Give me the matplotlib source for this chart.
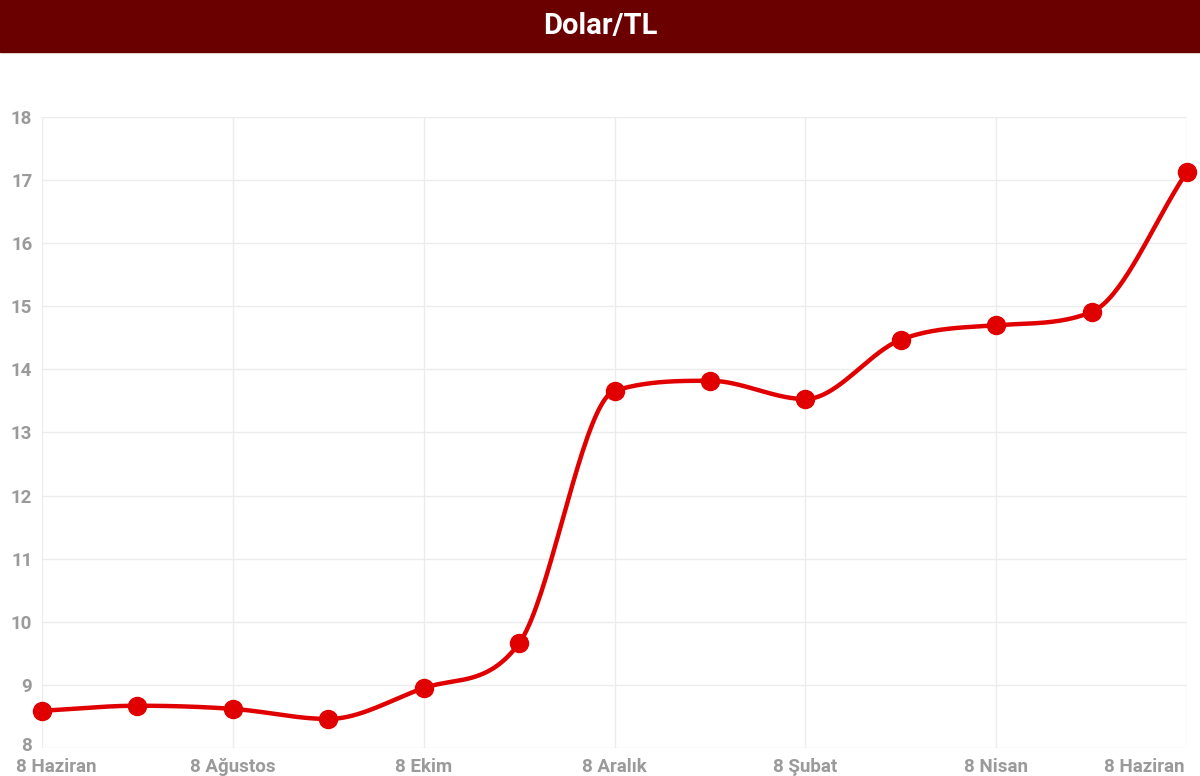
import numpy as np
import matplotlib
matplotlib.use("Agg")
import matplotlib.pyplot as plt
import matplotlib.transforms as mtransforms

# Dolar/TL monthly values (8 Haziran .. 8 Haziran)
months = ["8 Haziran", "8 Temmuz", "8 Ağustos", "8 Eylül", "8 Ekim", "8 Kasım",
          "8 Aralık", "8 Ocak", "8 Şubat", "8 Mart", "8 Nisan", "8 Mayıs", "8 Haziran"]
values = [8.59, 8.67, 8.62, 8.46, 8.95, 9.66, 13.66, 13.82, 13.53, 14.47, 14.70, 14.91, 17.13]
y_ticks = list(range(8, 19))

plt.rcParams['font.family'] = ['Roboto', 'DejaVu Sans']


def monotone_curve(x, y, n=40):
    # Fritsch-Carlson monotone cubic, same idea as chart.js 'monotone'
    x = np.asarray(x, float)
    y = np.asarray(y, float)
    h = np.diff(x)
    d = np.diff(y) / h
    m = np.zeros_like(y)
    m[0], m[-1] = d[0], d[-1]
    for i in range(1, len(y) - 1):
        m[i] = 0 if d[i - 1] * d[i] <= 0 else (d[i - 1] + d[i]) / 2
    for i in range(len(d)):
        if d[i] == 0:
            m[i] = m[i + 1] = 0
            continue
        a, b = m[i] / d[i], m[i + 1] / d[i]
        s = a * a + b * b
        if s > 9:
            t = 3 / np.sqrt(s)
            m[i], m[i + 1] = t * a * d[i], t * b * d[i]
    xs, ys = [], []
    for i in range(len(d)):
        t = np.linspace(0, 1, n)
        h00 = 2 * t**3 - 3 * t**2 + 1
        h10 = t**3 - 2 * t**2 + t
        h01 = -2 * t**3 + 3 * t**2
        h11 = t**3 - t**2
        xs.append(x[i] + t * h[i])
        ys.append(h00 * y[i] + h10 * h[i] * m[i] + h01 * y[i + 1] + h11 * h[i] * m[i + 1])
    return np.concatenate(xs), np.concatenate(ys)


fig = plt.figure(figsize=(12, 7.76), dpi=100)

# title bar
fig.patches.append(plt.Rectangle((0, 1 - 52 / 776), 1, 52 / 776, transform=fig.transFigure,
                                 color='#6b0000', zorder=0))
fig.text(0.5, 1 - 26 / 776, "Dolar/TL", color='white', fontsize=21, fontweight='bold',
         ha='center', va='center')

ax = fig.add_axes([42 / 1200, 1 - 748 / 776, (1187 - 42) / 1200, (748 - 117) / 776])

x = np.arange(len(values))
cx, cy = monotone_curve(x, values)
ax.plot(cx, cy, color='#e10000', linewidth=3.2, solid_capstyle='round', zorder=3)
ax.plot(x, values, 'o', color='#e10000', markersize=13, zorder=4, clip_on=False)

ax.set_xlim(0, len(values) - 1)
ax.set_ylim(8, 18)
ax.set_yticks(y_ticks)
ax.set_xticks(x[::2])
ax.set_xticklabels(months[::2])

for s in ax.spines.values():
    s.set_visible(False)
ax.grid(True, color='#ececec', linewidth=1)
ax.set_axisbelow(True)
ax.tick_params(length=0, labelsize=13.5, labelcolor='#9a9a9a')
ax.tick_params(axis='y', pad=7)
ax.tick_params(axis='x', pad=7)
for lab in ax.get_xticklabels() + ax.get_yticklabels():
    lab.set_fontweight('bold')

xl = ax.get_xticklabels()
xl[0].set_horizontalalignment('left')
xl[0].set_transform(xl[0].get_transform() + mtransforms.ScaledTranslation(-26 / 100, 0, fig.dpi_scale_trans))
xl[-1].set_horizontalalignment('right')
xl[-1].set_transform(xl[-1].get_transform() + mtransforms.ScaledTranslation(-2 / 100, 0, fig.dpi_scale_trans))

# lowest y label sits a little above the axis line, as in the original
yl = ax.get_yticklabels()
yl[0].set_verticalalignment('bottom')
yl[0].set_transform(yl[0].get_transform() + mtransforms.ScaledTranslation(0, -7 / 100, fig.dpi_scale_trans))

fig.savefig("out.png", dpi=100, facecolor='white')
